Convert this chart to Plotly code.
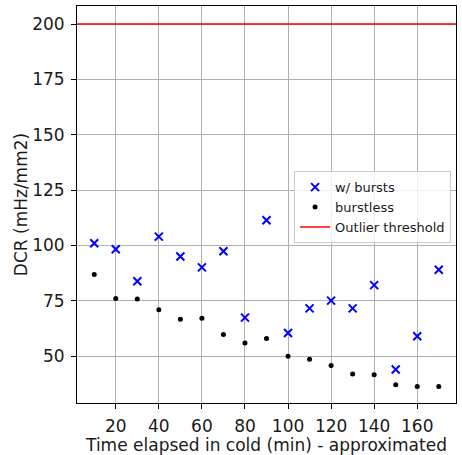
import plotly.graph_objects as go

time_min = [10, 20, 30, 40, 50, 60, 70, 80, 90, 100, 110, 120, 130, 140, 150, 160, 170]
dcr_bursts = [101, 98.3, 83.8, 104, 95, 90.1, 97.4, 67.4, 111.4, 60.5, 71.6, 75.1, 71.6, 82.1, 44, 59, 89]
dcr_burstless = [86.9, 76.1, 75.8, 71, 66.7, 67.1, 59.8, 56, 58, 50, 48.6, 45.8, 41.9, 41.6, 37.1, 36.3, 36.3]
threshold = 200
x_ticks = [20, 40, 60, 80, 100, 120, 140, 160]
y_ticks = [50, 75, 100, 125, 150, 175, 200]

fig = go.Figure()
fig.add_trace(go.Scatter(x=time_min, y=dcr_bursts, mode="markers", name="w/ bursts",
                         marker=dict(symbol="x-thin", size=8, color="#0000ff",
                                     line=dict(width=2, color="#0000ff"))))
fig.add_trace(go.Scatter(x=time_min, y=dcr_burstless, mode="markers", name="burstless",
                         marker=dict(symbol="circle", size=5, color="black")))
fig.add_trace(go.Scatter(x=[None], y=[None], mode="lines", name="Outlier threshold",
                         line=dict(color="red", width=1.5)))
fig.add_shape(type="line", xref="paper", x0=0, x1=1, yref="y", y0=threshold, y1=threshold,
              line=dict(color="red", width=1.5), layer="above")

axis_common = dict(showline=True, linecolor="black", linewidth=1, mirror=True,
                   ticks="outside", ticklen=5, tickcolor="black", ticklabelstandoff=3,
                   showgrid=True, gridcolor="#b0b0b0", gridwidth=0.8, zeroline=False,
                   tickfont=dict(size=17, color="#1a1a1a"))
fig.update_xaxes(range=[2, 178], tickvals=x_ticks,
                 title=dict(text="Time elapsed in cold (min) - approximated",
                            font=dict(size=17, color="#1a1a1a"), standoff=2),
                 **axis_common)
fig.update_yaxes(range=[28.85, 208.15], tickvals=y_ticks,
                 title=dict(text="DCR (mHz/mm2)", font=dict(size=17, color="#1a1a1a"), standoff=0),
                 **axis_common)

fig.update_layout(
    width=462, height=455,
    margin=dict(l=77, r=5, t=6, b=50),
    paper_bgcolor="white", plot_bgcolor="white",
    font=dict(family="DejaVu Sans", color="#1a1a1a"),
    legend=dict(x=0.987, xanchor="right", y=0.584, yanchor="top",
                bgcolor="rgba(255,255,255,0.8)", bordercolor="#cccccc", borderwidth=1,
                font=dict(size=13), tracegroupgap=0, itemwidth=30),
    showlegend=True,
)

fig.write_html("out.html", config={"displayModeBar": False},
               post_script="document.body.style.margin='0';document.body.style.overflow='hidden';")
